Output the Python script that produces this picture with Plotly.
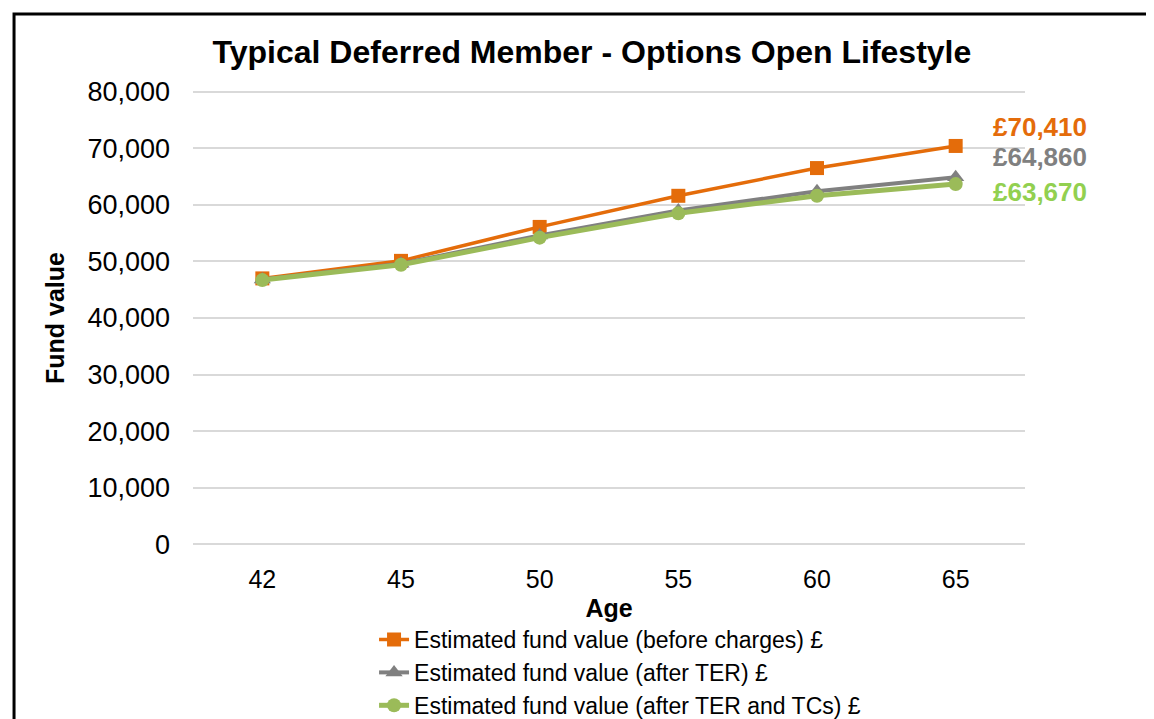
import plotly.graph_objects as go

# ── Data ──────────────────────────────────────────────────────
AGES = ["42", "45", "50", "55", "60", "65"]
BEFORE = [47000, 50100, 56100, 61600, 66500, 70410]
AFTER_TER = [46800, 49600, 54600, 59000, 62400, 64860]
AFTER_TER_TC = [46700, 49400, 54200, 58500, 61600, 63670]
END_LABELS = ["£70,410", "£64,860", "£63,670"]

ORANGE = "#E46C0A"
GREY = "#808080"
GREEN = "#9BBB59"
GREEN_TXT = "#92D050"
FONT = dict(family="Liberation Sans, Arial, sans-serif", size=25, color="#000000")

fig = go.Figure()
fig.add_trace(go.Scatter(x=AGES, y=BEFORE, mode="lines+markers",
    name="Estimated fund value (before charges) £",
    line=dict(color=ORANGE, width=3.5),
    marker=dict(symbol="square", size=14, color=ORANGE)))
fig.add_trace(go.Scatter(x=AGES, y=AFTER_TER, mode="lines+markers",
    name="Estimated fund value (after TER) £",
    line=dict(color=GREY, width=4),
    marker=dict(symbol="triangle-up", size=15, color=GREY)))
fig.add_trace(go.Scatter(x=AGES, y=AFTER_TER_TC, mode="lines+markers",
    name="Estimated fund value (after TER and TCs) £",
    line=dict(color=GREEN, width=5),
    marker=dict(symbol="circle", size=14, color=GREEN)))

# end-of-line value labels (category index of the last age)
last = len(AGES) - 1
for val, txt, col, dy in [(BEFORE[-1], END_LABELS[0], ORANGE, 19),
                          (AFTER_TER[-1], END_LABELS[1], GREY, 20),
                          (AFTER_TER_TC[-1], END_LABELS[2], GREEN_TXT, -8)]:
    fig.add_annotation(x=last, y=val, text=f"<b>{txt}</b>", showarrow=False,
        xanchor="left", xshift=35, yshift=dy,
        font=dict(family=FONT["family"], size=26, color=col))

# outer frame
fig.add_shape(type="rect", xref="paper", yref="paper",
    x0=-0.2151, x1=1.2, y0=-0.6, y1=1.1667,
    line=dict(color="black", width=3), fillcolor="rgba(0,0,0,0)")

fig.update_xaxes(type="category", range=[-0.5, 5.5], showgrid=False, showline=False,
    zeroline=False, ticks="", tickfont=dict(size=25), ticklabelstandoff=16,
    title=dict(text="<b>Age</b>", font=dict(size=25), standoff=7))
# small padding so the 0 and 80,000 gridlines are drawn
fig.update_yaxes(range=[-300, 80300], dtick=10000, tickformat=",", showgrid=True,
    gridcolor="#D9D9D9", gridwidth=1.5, zeroline=False, showline=False,
    ticks="", tickfont=dict(size=27), ticklabelstandoff=22,
    title=dict(text="<b>Fund value</b>", font=dict(size=25), standoff=15))

fig.update_layout(
    width=1154, height=719,
    paper_bgcolor="white", plot_bgcolor="white", font=FONT,
    margin=dict(l=185, r=137, t=82, b=181, autoexpand=False),
    title=dict(text="<b>Typical Deferred Member - Options Open Lifestyle</b>",
               x=0.506, xanchor="center", y=0.939, yanchor="middle",
               font=dict(size=32)),
    legend=dict(orientation="v", x=0.2176, xanchor="left", y=-0.158, yanchor="top",
                font=dict(size=23), itemwidth=30, tracegroupgap=0,
                bgcolor="rgba(0,0,0,0)"),
    showlegend=True,
)

fig.write_html("out.html")
